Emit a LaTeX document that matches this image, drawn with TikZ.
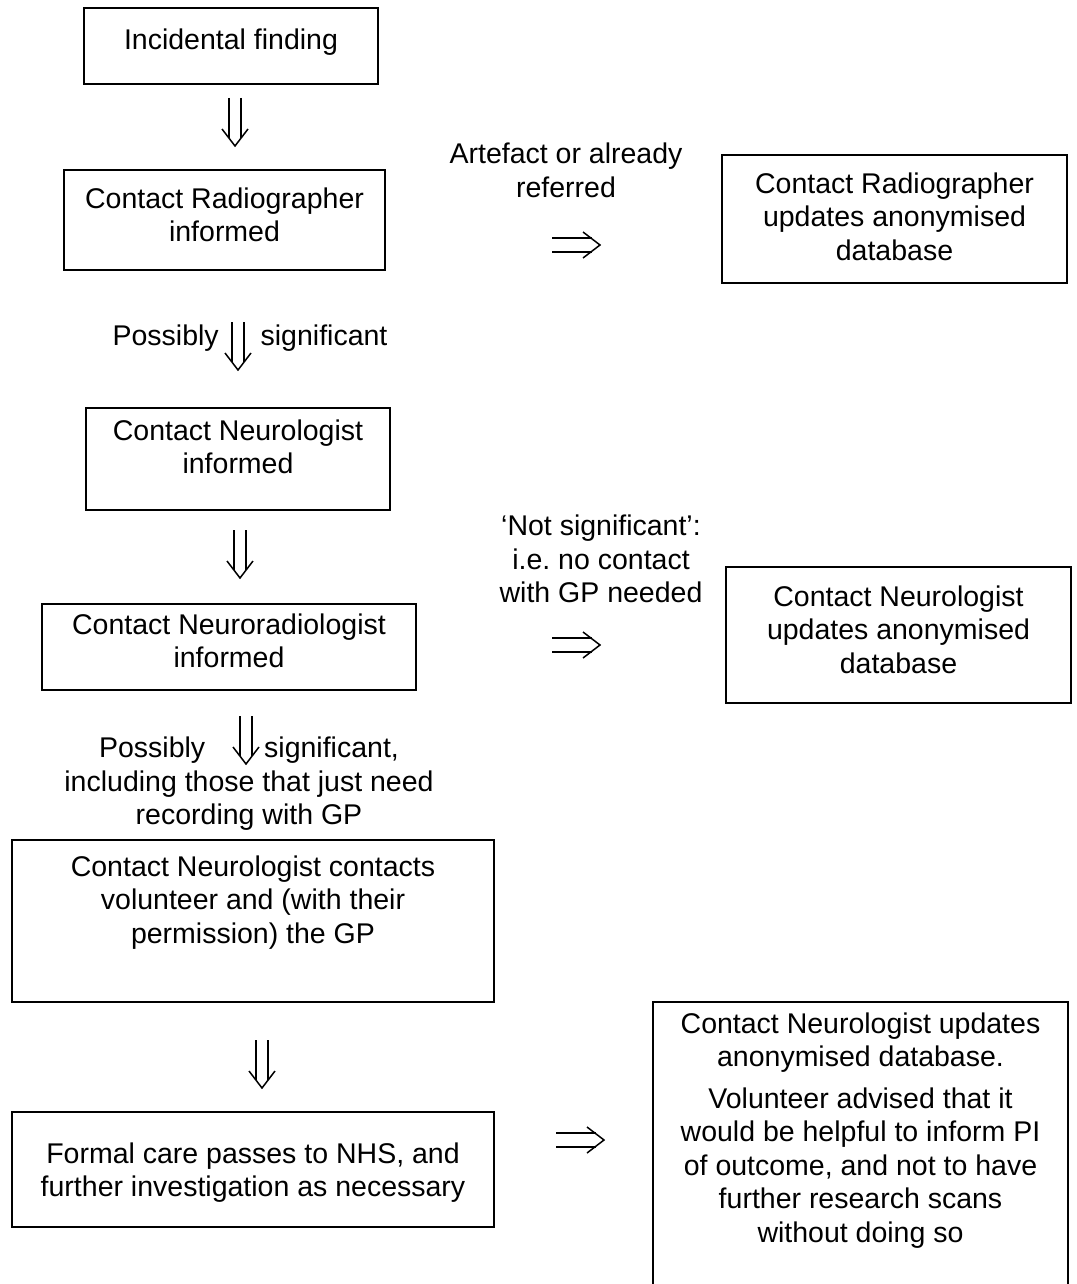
\documentclass[tikz,border=0pt]{standalone}
\usepackage{fontspec}
\setmainfont{Liberation Sans}
\begin{document}
\begin{tikzpicture}[x=1pt,y=-1pt,
  box/.style={draw, line width=1.6pt, rectangle, inner sep=0pt},
  txt/.style={font=\fontsize{28.5}{33.5}\selectfont, align=center, inner sep=0pt, anchor=north},
  glyph/.style={line width=1.5pt, line cap=butt, line join=miter},
  downarr/.pic={
    \draw[glyph] (-6,0) -- (-6,40);
    \draw[glyph] (6,0) -- (6,40);
    \draw[glyph] (-13,31) -- (0,48) -- (13,31);
  },
  rightarr/.pic={
    \draw[glyph] (0,-7) -- (40,-7);
    \draw[glyph] (0,7) -- (40,7);
    \draw[glyph] (31,-13) -- (48,0) -- (31,13);
  }]
\useasboundingbox (0,0) rectangle (1076,1284);
\clip (0,0) rectangle (1076,1284);

% boxes
\node[box, minimum width=294pt, minimum height=76pt]  (b1) at (231,46) {};
\node[box, minimum width=321pt, minimum height=100pt] (b2) at (224.5,220) {};
\node[box, minimum width=345pt, minimum height=128pt] (b3) at (894.5,219) {};
\node[box, minimum width=304pt, minimum height=102pt] (b4) at (238,459) {};
\node[box, minimum width=374pt, minimum height=86pt]  (b5) at (229,647) {};
\node[box, minimum width=345pt, minimum height=136pt] (b6) at (898.5,635) {};
\node[box, minimum width=482pt, minimum height=162pt] (b7) at (253,921) {};
\node[box, minimum width=482pt, minimum height=115pt] (b8) at (253,1169.5) {};
\node[box, minimum width=415pt, minimum height=298pt] (b9) at (860.5,1151) {};

% box texts
\node[txt] (t1) at ([yshift=-21pt]b1.north) {Incidental finding};
\node[txt] (t2) at ([yshift=-18pt]b2.north) {Contact Radiographer\\informed};
\node[txt] (t3) at ([yshift=-18pt]b3.north) {Contact Radiographer\\updates anonymised\\database};
\node[txt] (t4) at ([yshift=-12pt]b4.north) {Contact Neurologist\\informed};
\node[txt] (t5) at ([yshift=-10pt]b5.north) {Contact Neuroradiologist\\informed};
\node[txt] (t6) at ([yshift=-19pt]b6.north) {Contact Neurologist\\updates anonymised\\database};
\node[txt] (t7) at ([yshift=-16pt]b7.north) {Contact Neurologist contacts\\volunteer and (with their\\permission) the GP};
\node[txt] (t8) at ([yshift=-31pt]b8.north) {Formal care passes to NHS, and\\further investigation as necessary};
\node[txt] (t9) at ([yshift=-11pt]b9.north) {Contact Neurologist updates\\anonymised database.\\[8pt]Volunteer advised that it\\would be helpful to inform PI\\of outcome, and not to have\\further research scans\\without doing so};

% labels
\node[txt] (l1) at (566,143) {Artefact or already\\referred};
\node[txt] (l2) at (601,515) {‘Not significant’:\\i.e.\ no contact\\with GP needed};
\node[txt] (l3) at (250,325) {Possibly\hspace{42pt}significant};
\node[txt] (l4) at (249,737) {Possibly\hspace{59pt}significant,\\including those that just need\\recording with GP};

% arrow glyphs
\coordinate (a1) at (235,98);
\coordinate (a2) at (238,322);
\coordinate (a3) at (240,530);
\coordinate (a4) at (246,716);
\coordinate (a5) at (262,1040);
\coordinate (r1) at (552,245);
\coordinate (r2) at (552,645);
\coordinate (r3) at (556,1140);
\pic at (a1) {downarr};
\pic at (a2) {downarr};
\pic at (a3) {downarr};
\pic at (a4) {downarr};
\pic at (a5) {downarr};
\pic at (r1) {rightarr};
\pic at (r2) {rightarr};
\pic at (r3) {rightarr};
\end{tikzpicture}
\end{document}
